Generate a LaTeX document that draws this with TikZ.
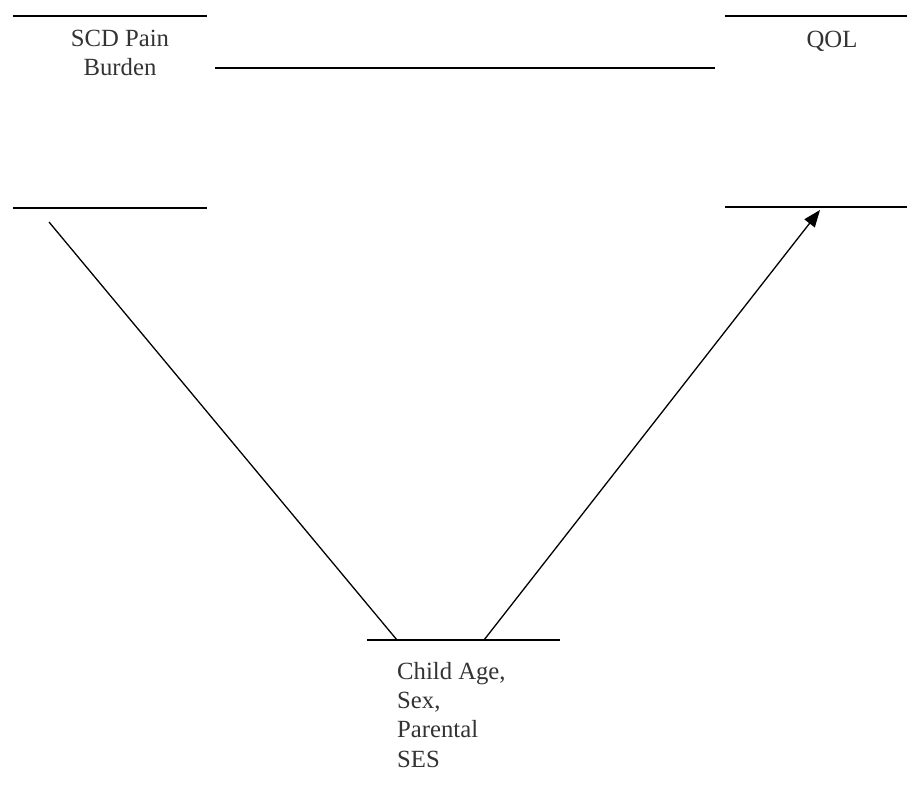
\documentclass[tikz,border=0pt]{standalone}
\usepackage{fontspec}
\setmainfont{Liberation Serif}
\usetikzlibrary{arrows.meta}
\begin{document}
\begin{tikzpicture}[x=1bp,y=-1bp,
  bar/.style={line width=1.8bp,black},
  link/.style={line width=1.3bp,black},
  lbl/.style={inner sep=0pt,text=black!80,font=\fontsize{24.8}{29.2}\selectfont},
]
\useasboundingbox (0,0) rectangle (908,809);
% bars
\coordinate (a1) at (13,16);  \coordinate (a2) at (207,16);
\coordinate (b1) at (13,208); \coordinate (b2) at (207,208);
\coordinate (c1) at (725,16); \coordinate (c2) at (907,16);
\coordinate (d1) at (725,207); \coordinate (d2) at (907,207);
\coordinate (m1) at (215,68); \coordinate (m2) at (715,68);
\coordinate (e1) at (367,640); \coordinate (e2) at (560,640);
\draw[bar] (a1) -- (a2);
\draw[bar] (b1) -- (b2);
\draw[bar] (c1) -- (c2);
\draw[bar] (d1) -- (d2);
\draw[bar] (m1) -- (m2);
\draw[bar] (e1) -- (e2);
% labels (base anchor = baseline of last line)
\node[lbl,anchor=base,align=center] (scd) at (120,76) {SCD Pain\\Burden};
\node[lbl,anchor=base] (qol) at (832,48) {QOL};
\node[lbl,anchor=base west,align=left] (cov) at (397,767) {Child Age,\\Sex,\\Parental\\SES};
% connectors
\coordinate (s1) at (49,222);
\coordinate (s2) at (397,640);
\coordinate (t1) at (484,640);
\coordinate (t2) at (820,210);
\draw[link] (s1) -- (s2);
\draw[link,-{Triangle[length=17bp,width=13bp]}] (t1) -- (t2);
\end{tikzpicture}
\end{document}
